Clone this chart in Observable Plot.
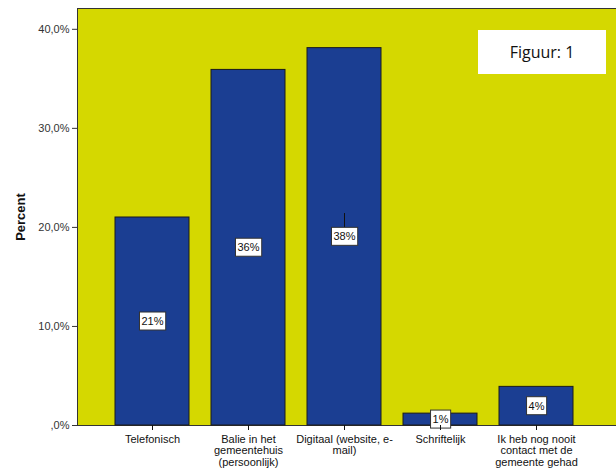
<!DOCTYPE html>
<html>
<head>
<meta charset="utf-8">
<script src="https://cdn.jsdelivr.net/npm/d3@7"></script>
<script src="https://cdn.jsdelivr.net/npm/@observablehq/plot@0.6"></script>
<style>
  html, body { margin: 0; padding: 0; background: #fff; }
  #wrap { position: relative; width: 616px; height: 468px; }
  #fig { position: absolute; left: 478px; top: 30px; width: 128px; height: 44px; background: #fff;
         font-family: "Open Sans", sans-serif; font-size: 16px; color: #111;
         display: flex; align-items: center; justify-content: center; }
</style>
</head>
<body>
<div id="wrap"><div id="fig">Figuur: 1</div></div>
<script>
const categories = ["Telefonisch", "Balie in het gemeentehuis (persoonlijk)", "Digitaal (website, e-mail)", "Schriftelijk", "Ik heb nog nooit contact met de gemeente gehad"];
const tickLabels = ["Telefonisch", "Balie in het\ngemeentehuis\n(persoonlijk)", "Digitaal (website, e-\nmail)", "Schriftelijk", "Ik heb nog nooit\ncontact met de\ngemeente gehad"];
const percents = [21.0, 35.9, 38.1, 1.2, 3.9];
const valueLabels = ["21%", "36%", "38%", "1%", "4%"];
const yTicks = [0, 10, 20, 30, 40];
const leaderLines = [{cat: "Digitaal (website, e-mail)", y1: 21.4, y2: 19.9}];

const data = categories.map((c, i) => ({cat: c, pct: percents[i], label: valueLabels[i]}));
const tickMap = new Map(categories.map((c, i) => [c, tickLabels[i]]));
const fmtY = d => d === 0 ? ",0%" : d.toFixed(1).replace(".", ",") + "%";

const chart = Plot.plot({
  width: 616,
  height: 468,
  marginLeft: 77,
  marginRight: 0,
  marginTop: 8,
  marginBottom: 43,
  style: {fontFamily: "'Liberation Sans', Arial, sans-serif", background: "transparent"},
  x: {domain: categories, range: [104, 584], paddingInner: 0.23, paddingOuter: 0.115},
  y: {domain: [0, 42.1]},
  marks: [
    Plot.frame({fill: "#d5d800", stroke: "#333", strokeWidth: 1}),
    Plot.barY(data, {x: "cat", y: "pct", fill: "#1b3e92", stroke: "#1a1a1a", strokeWidth: 1}),
    Plot.ruleX(leaderLines, {x: "cat", y1: "y1", y2: "y2", stroke: "#111", strokeWidth: 1}),
    Plot.text(data, {x: "cat", y: d => d.pct / 2, text: "label", fontSize: 11, fill: "#111", className: "vlabel"}),
    Plot.axisY({ticks: yTicks, tickFormat: fmtY, tickSize: 5, tickPadding: 3, fontSize: 11, color: "#333",
      label: "Percent", labelAnchor: "center", labelOffset: 62, labelArrow: "none"}),
    Plot.axisX({tickFormat: d => tickMap.get(d), tickSize: 5, tickPadding: 4, fontSize: 11, lineHeight: 1.05, label: null, color: "#111"})
  ]
});

document.getElementById("wrap").prepend(chart);
chart.style.position = "absolute";
chart.style.left = "0";
chart.style.top = "0";

// Restyle y-axis label
d3.select(chart).selectAll('[aria-label="y-axis label"] text, [aria-label="y-axis label"]')
  .attr("font-weight", "bold").attr("font-size", 13).attr("fill", "#111");

// White boxes behind value labels
d3.select(chart).selectAll("g.vlabel text").each(function() {
  const b = this.getBBox();
  const padX = 2, padY = 3;
  d3.select(this.parentNode).insert("rect", () => this)
    .attr("x", b.x - padX).attr("y", b.y - padY)
    .attr("width", b.width + 2 * padX).attr("height", b.height + 2 * padY)
    .attr("transform", this.getAttribute("transform"))
    .attr("fill", "#fff").attr("stroke", "#333").attr("stroke-width", 1);
});
</script>
</body>
</html>
